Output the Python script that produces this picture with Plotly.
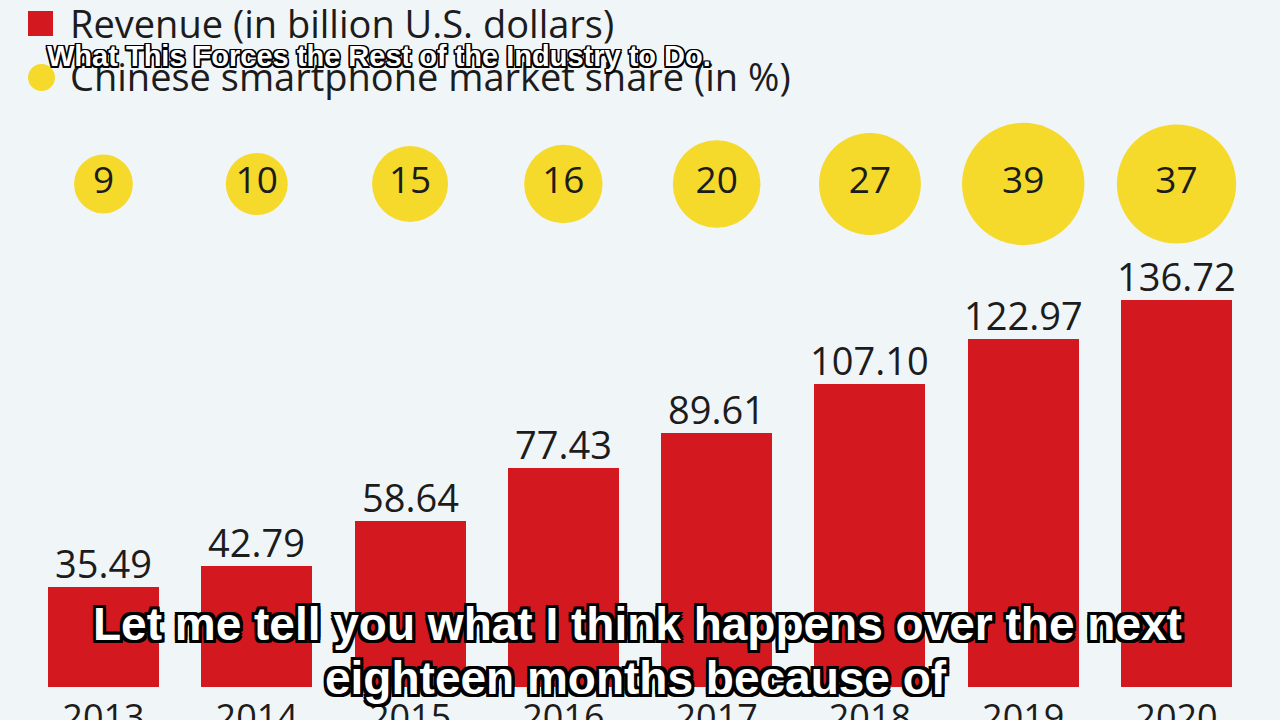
import plotly.graph_objects as go

years = [2013, 2014, 2015, 2016, 2017, 2018, 2019, 2020]
revenue = [35.49, 42.79, 58.64, 77.43, 89.61, 107.10, 122.97, 136.72]
share = [9, 10, 15, 16, 20, 27, 39, 37]
legend_labels = ["Revenue (in billion U.S. dollars)", "Chinese smartphone market share (in %)"]
overlay_title = "What This Forces the Rest of the Industry to Do."
subtitle_lines = ["Let me tell you what I think happens over the next", "eighteen months because of"]

W, H = 1280, 720
BOTTOM = 33
PH = H - BOTTOM
BG = "#f0f5f8"
RED = "#d4181f"
YELLOW = "#f5d92b"
INK = "#1c1c1c"
FONT = "Open Sans"

def px(x):
    return x / W

def py(y):
    return (PH - y) / PH

fig = go.Figure()
fig.add_trace(go.Bar(
    x=years, y=revenue, width=0.724, marker=dict(color=RED, line=dict(width=0)),
    showlegend=False, hoverinfo="skip",
))
ROW = (PH - 184) / PH
fig.add_trace(go.Scatter(
    x=years, y=[ROW] * len(years), yaxis="y2", mode="markers+text",
    text=[str(s) for s in share], textposition="middle center",
    textfont=dict(family=FONT, size=37, color=INK),
    marker=dict(size=share, sizemode="area", sizeref=2 / 19.6 ** 2, color=YELLOW,
                opacity=1, line=dict(width=0)),
    cliponaxis=False, showlegend=False,
))

shapes = [
    dict(type="rect", xref="paper", yref="paper", x0=px(28), x1=px(53), y0=py(36), y1=py(11),
         fillcolor=RED, line=dict(width=0)),
    dict(type="circle", xref="paper", yref="paper", x0=px(28), x1=px(55), y0=py(91), y1=py(64),
         fillcolor=YELLOW, line=dict(width=0)),
]

def outline(w):
    offs = [(w, 0), (-w, 0), (0, w), (0, -w), (w, w), (-w, -w), (w, -w), (-w, w)]
    return ", ".join(f"{a}px {b}px 0 #000" for a, b in offs)

annotations = []
for yr, v in zip(years, revenue):
    annotations.append(dict(x=yr, y=v, xref="x", yref="y", text=f"{v:.2f}", showarrow=False,
                            xanchor="center", yanchor="middle", yshift=24,
                            font=dict(family=FONT, size=38, color=INK)))

annotations += [
    dict(x=px(68), y=py(23), xref="paper", yref="paper", text=legend_labels[0], showarrow=False,
         xanchor="left", yanchor="middle", font=dict(family=FONT, size=38, color=INK)),
    dict(x=px(68), y=py(76), xref="paper", yref="paper", text=legend_labels[1], showarrow=False,
         xanchor="left", yanchor="middle", font=dict(family=FONT, size=38, color=INK)),
    dict(x=px(45), y=py(56), xref="paper", yref="paper", text=overlay_title, showarrow=False,
         xanchor="left", yanchor="middle",
         font=dict(family="Liberation Sans", size=29, color="white", weight="bold", shadow=outline(1.5))),
    dict(x=px(637), y=py(624), xref="paper", yref="paper", text=subtitle_lines[0], showarrow=False,
         xanchor="center", yanchor="middle",
         font=dict(family="Liberation Sans", size=46, color="white", weight="bold", shadow=outline(3))),
    dict(x=px(636), y=py(678), xref="paper", yref="paper", text=subtitle_lines[1], showarrow=False,
         xanchor="center", yanchor="middle",
         font=dict(family="Liberation Sans", size=46, color="white", weight="bold", shadow=outline(3))),
]

fig.update_layout(
    width=W, height=H, margin=dict(l=0, r=0, t=0, b=BOTTOM, pad=0, autoexpand=False),
    paper_bgcolor=BG, plot_bgcolor=BG,
    xaxis=dict(range=[2012.325, 2020.675], tickvals=years, ticktext=[str(y) for y in years],
               tickfont=dict(family=FONT, size=36, color=INK), showgrid=False, zeroline=False,
               showline=False, ticks="", ticklabelstandoff=6, automargin=False, fixedrange=True),
    yaxis=dict(range=[0, PH / 2.83], visible=False, showgrid=False, zeroline=False, automargin=False),
    yaxis2=dict(range=[0, 1], overlaying="y", visible=False),
    shapes=shapes, annotations=annotations, bargap=0,
)

fig.write_html("out.html")
